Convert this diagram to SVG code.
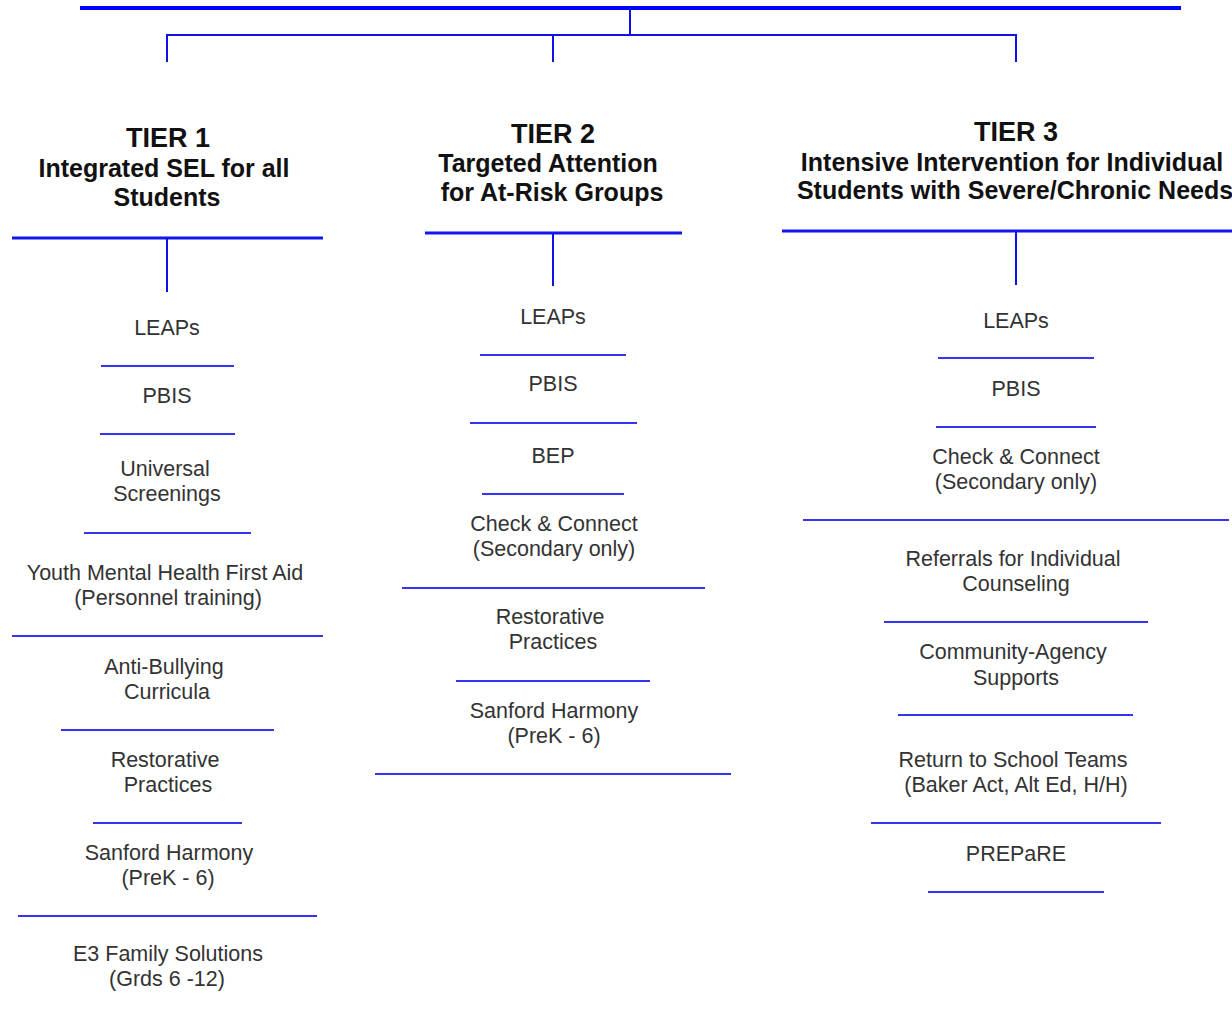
<svg xmlns="http://www.w3.org/2000/svg" width="1232" height="1016" viewBox="0 0 1232 1016">
<style>
  .tier { font-family: "Liberation Sans", Arial, sans-serif; font-size: 27px; font-weight: bold; fill: #111; text-anchor: middle; }
  .sub { font-family: "Liberation Sans", Arial, sans-serif; font-size: 25px; font-weight: bold; fill: #111; text-anchor: middle; }
  .item { font-family: "Liberation Sans", Arial, sans-serif; font-size: 21.5px; fill: #333; text-anchor: middle; }
  .sep { stroke: #3535f0; stroke-width: 2; fill: none; }
  .hline { stroke: #1515ee; stroke-width: 3; fill: none; }
  .conn { stroke: #1010ee; stroke-width: 2; fill: none; }
</style>
<rect width="1232" height="1016" fill="#ffffff"/>
<g id="connectors">
  <line x1="80" y1="8" x2="1181" y2="8" stroke="#0000ff" stroke-width="4"/>
  <line class="conn" x1="630" y1="8" x2="630" y2="35"/>
  <polyline class="conn" points="167,62 167,35 1016,35 1016,62"/>
  <line class="conn" x1="553" y1="35" x2="553" y2="62"/>
  <line class="conn" x1="167" y1="238" x2="167" y2="292"/>
  <line class="conn" x1="553" y1="233" x2="553" y2="286"/>
  <line class="conn" x1="1016" y1="231" x2="1016" y2="285"/>
</g>
<g id="tier1">
  <text class="tier" x="168" y="147">TIER 1</text>
  <text class="sub" x="164" y="177">Integrated SEL for all</text>
  <text class="sub" x="167" y="206">Students</text>
  <line class="hline" x1="12" y1="238" x2="323" y2="238"/>
</g>
<g id="tier2">
  <text class="tier" x="553" y="143">TIER 2</text>
  <text class="sub" x="548" y="171.5">Targeted Attention</text>
  <text class="sub" x="552" y="200.5">for At-Risk Groups</text>
  <line class="hline" x1="425" y1="233" x2="682" y2="233"/>
</g>
<g id="tier3">
  <text class="tier" x="1016" y="141">TIER 3</text>
  <text class="sub" x="1012" y="171">Intensive Intervention for Individual</text>
  <text class="sub" x="1015" y="198.5">Students with Severe/Chronic Needs</text>
  <line class="hline" x1="782" y1="231" x2="1232" y2="231"/>
</g>
<g id="t1-leaps"><text class="item" x="167" y="334.5">LEAPs</text><line class="sep" x1="101" y1="366" x2="234" y2="366"/></g>
<g id="t1-pbis"><text class="item" x="167" y="402.5">PBIS</text><line class="sep" x1="100" y1="434" x2="235" y2="434"/></g>
<g id="t1-screen"><text class="item" x="165" y="475.5">Universal</text><text class="item" x="167" y="500.5">Screenings</text><line class="sep" x1="84" y1="533" x2="251" y2="533"/></g>
<g id="t1-ymhfa"><text class="item" x="165" y="579.5">Youth Mental Health First Aid</text><text class="item" x="168" y="604.5">(Personnel training)</text><line class="sep" x1="12" y1="636" x2="323" y2="636"/></g>
<g id="t1-bully"><text class="item" x="164" y="673.5">Anti-Bullying</text><text class="item" x="167" y="698.5">Curricula</text><line class="sep" x1="61" y1="730" x2="274" y2="730"/></g>
<g id="t1-rp"><text class="item" x="165" y="766.5">Restorative</text><text class="item" x="168" y="791.5">Practices</text><line class="sep" x1="93" y1="823" x2="242" y2="823"/></g>
<g id="t1-sh"><text class="item" x="169" y="859.5">Sanford Harmony</text><text class="item" x="168" y="884.5">(PreK - 6)</text><line class="sep" x1="18" y1="916" x2="317" y2="916"/></g>
<g id="t1-e3"><text class="item" x="168" y="960.5">E3 Family Solutions</text><text class="item" x="167" y="985.5">(Grds 6 -12)</text></g>
<g id="t2-leaps"><text class="item" x="553" y="323.5">LEAPs</text><line class="sep" x1="480" y1="355" x2="626" y2="355"/></g>
<g id="t2-pbis"><text class="item" x="553" y="390.5">PBIS</text><line class="sep" x1="470" y1="423" x2="637" y2="423"/></g>
<g id="t2-bep"><text class="item" x="553" y="462.5">BEP</text><line class="sep" x1="482" y1="494" x2="624" y2="494"/></g>
<g id="t2-cc"><text class="item" x="554" y="530.5">Check &amp; Connect</text><text class="item" x="554" y="555.5">(Secondary only)</text><line class="sep" x1="402" y1="588" x2="705" y2="588"/></g>
<g id="t2-rp"><text class="item" x="550" y="623.5">Restorative</text><text class="item" x="553" y="648.5">Practices</text><line class="sep" x1="456" y1="681" x2="650" y2="681"/></g>
<g id="t2-sh"><text class="item" x="554" y="717.5">Sanford Harmony</text><text class="item" x="554" y="742.5">(PreK - 6)</text><line class="sep" x1="375" y1="774" x2="731" y2="774"/></g>
<g id="t3-leaps"><text class="item" x="1016" y="327.5">LEAPs</text><line class="sep" x1="938" y1="358" x2="1094" y2="358"/></g>
<g id="t3-pbis"><text class="item" x="1016" y="395.5">PBIS</text><line class="sep" x1="936" y1="427" x2="1096" y2="427"/></g>
<g id="t3-cc"><text class="item" x="1016" y="463.5">Check &amp; Connect</text><text class="item" x="1016" y="488.5">(Secondary only)</text><line class="sep" x1="803" y1="520" x2="1229" y2="520"/></g>
<g id="t3-ref"><text class="item" x="1013" y="565.5">Referrals for Individual</text><text class="item" x="1016" y="590.5">Counseling</text><line class="sep" x1="884" y1="622" x2="1148" y2="622"/></g>
<g id="t3-cas"><text class="item" x="1013" y="658.5">Community-Agency</text><text class="item" x="1016" y="684.5">Supports</text><line class="sep" x1="898" y1="715" x2="1133" y2="715"/></g>
<g id="t3-rts"><text class="item" x="1013" y="766.5">Return to School Teams</text><text class="item" x="1016" y="791.5">(Baker Act, Alt Ed, H/H)</text><line class="sep" x1="871" y1="823" x2="1161" y2="823"/></g>
<g id="t3-prep"><text class="item" x="1016" y="860.5">PREPaRE</text><line class="sep" x1="928" y1="892" x2="1104" y2="892"/></g>
</svg>
